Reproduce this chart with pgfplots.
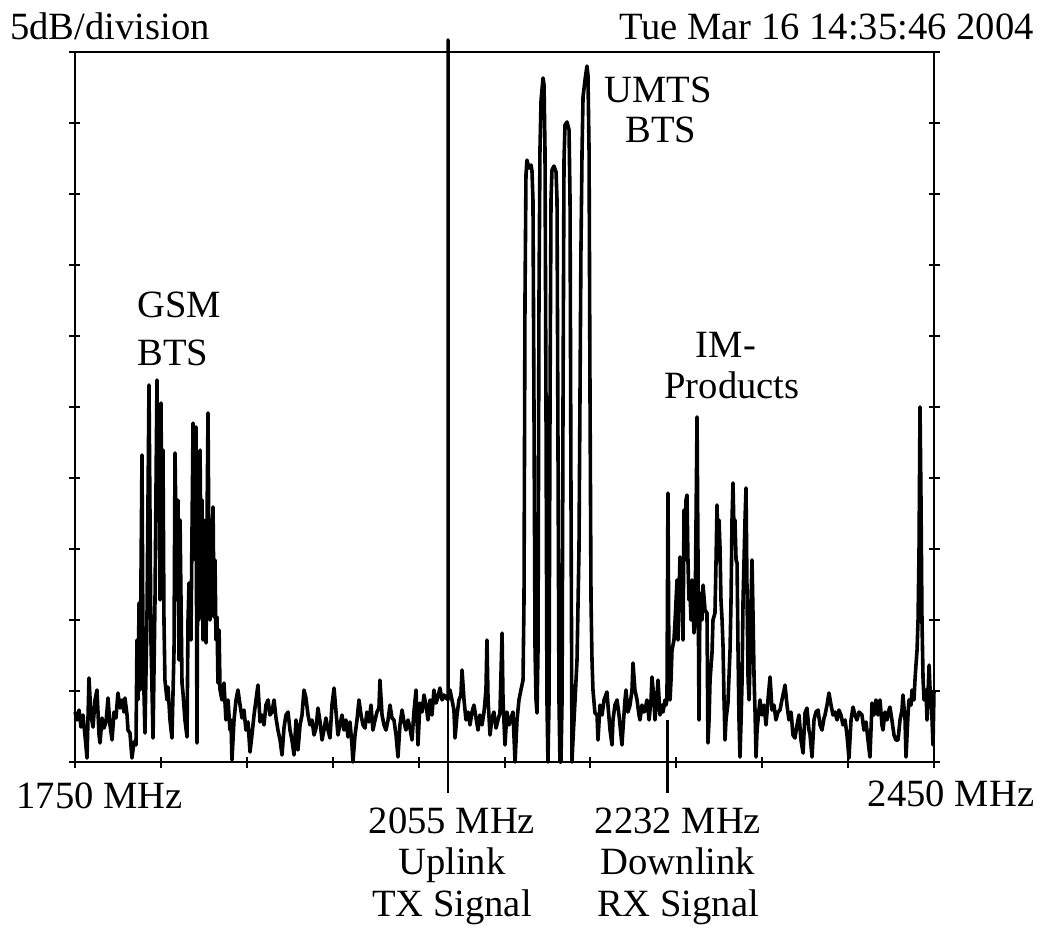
\documentclass[border=0pt]{standalone}
\usepackage{pgfplots}
\pgfplotsset{compat=1.18}
\usepackage{fontspec}
\setmainfont{Liberation Serif}
\tikzset{lbl/.style={font=\fontsize{19.3pt}{21pt}\selectfont, inner sep=0pt}}
\begin{document}
\begin{tikzpicture}
\begin{axis}[
  at={(0pt,0pt)}, anchor=south west,
  scale only axis, width=429.5pt, height=355pt,
  xmin=1750, xmax=2450, ymin=0, ymax=50,
  clip=false,
  axis line style={line width=1.3pt},
  xtick={1750,1820,1890,1960,2030,2100,2170,2240,2310,2380,2450},
  ytick={0,5,...,50},
  xticklabels={}, yticklabels={},
  xtick pos=left, ytick pos=both,
  tick align=center, major tick length=5.5pt,
  tick style={line width=1pt, black},
]
\addplot[black, line width=1.8pt, line join=round] table {
x y
1750.0 3.52
1751.6 2.96
1753.3 3.66
1754.9 2.46
1756.5 3.31
1758.1 1.90
1759.8 0.28
1761.4 5.92
1763.0 3.31
1764.7 2.46
1766.3 4.37
1767.9 5.07
1769.6 1.90
1770.4 1.34
1772.0 3.10
1773.6 2.39
1775.3 2.82
1776.9 4.51
1778.5 2.61
1780.2 1.55
1781.8 3.52
1783.4 3.10
1785.0 4.86
1786.7 3.80
1788.3 4.37
1789.9 3.52
1790.7 4.51
1792.4 3.31
1793.2 2.25
1794.8 2.04
1796.4 0.28
1798.1 1.41
1799.7 1.20
1800.5 8.59
1801.3 4.37
1802.2 11.20
1803.0 5.07
1804.6 21.62
1805.4 7.89
1807.0 2.04
1808.7 10.49
1810.3 26.55
1811.9 8.59
1813.6 1.69
1815.2 11.41
1816.8 26.90
1817.6 17.04
1818.5 23.38
1819.3 11.41
1820.1 25.28
1820.9 14.23
1821.7 21.97
1822.5 10.00
1823.3 5.77
1825.0 4.37
1825.8 5.28
1827.4 2.96
1829.0 1.69
1830.7 7.89
1831.5 21.76
1833.1 11.41
1833.9 18.45
1834.7 7.18
1835.6 17.04
1837.2 5.56
1838.0 4.86
1839.6 2.96
1841.3 1.76
1842.1 10.00
1842.9 12.61
1844.5 8.59
1846.2 23.87
1847.8 14.23
1848.6 23.59
1849.4 1.34
1850.2 18.45
1851.0 10.00
1851.9 21.97
1852.7 14.23
1853.5 18.45
1854.3 8.59
1855.1 17.04
1855.9 11.41
1856.8 8.38
1857.6 17.04
1858.4 24.58
1859.2 14.23
1860.0 10.00
1860.8 17.04
1861.6 11.41
1862.5 17.96
1863.3 10.21
1864.1 14.23
1864.9 8.59
1865.7 10.21
1866.5 5.56
1867.4 9.30
1868.2 5.07
1869.8 4.37
1871.4 5.56
1873.0 2.96
1874.7 4.37
1876.3 2.25
1877.1 2.96
1877.9 0.14
1879.6 2.96
1881.2 4.37
1882.8 5.07
1884.5 4.01
1886.1 3.10
1887.7 3.66
1889.3 2.25
1891.0 2.82
1892.6 0.70
1894.2 1.90
1895.9 3.31
1897.5 4.37
1899.1 5.42
1900.8 2.82
1902.4 3.31
1904.0 2.61
1905.6 4.01
1907.3 4.37
1908.9 3.31
1910.5 3.52
1912.2 4.37
1913.8 3.10
1915.4 2.25
1917.1 1.55
1918.7 0.49
1920.3 2.39
1921.9 3.31
1923.6 3.52
1925.2 2.25
1926.8 1.55
1928.5 0.49
1930.1 2.96
1931.7 0.85
1933.4 2.61
1935.0 3.31
1936.6 5.07
1938.2 4.51
1939.9 3.31
1941.5 2.61
1943.1 2.96
1944.8 1.90
1946.4 2.39
1948.0 3.80
1949.7 2.82
1951.3 1.55
1952.9 2.25
1954.5 3.10
1956.2 2.25
1957.8 1.69
1959.4 4.01
1961.1 5.21
1962.7 3.52
1964.3 1.90
1965.9 2.61
1967.6 3.31
1969.2 2.25
1970.8 2.96
1972.5 1.76
1974.1 2.82
1975.7 1.20
1976.5 0.00
1978.2 1.90
1979.8 2.96
1981.4 4.37
1983.1 3.31
1984.7 2.61
1986.3 2.39
1987.9 3.52
1989.6 2.82
1991.2 4.01
1992.8 2.25
1994.5 2.96
1996.1 3.52
1997.7 3.80
1998.5 5.77
2000.2 3.31
2001.8 2.61
2003.4 2.25
2005.1 2.96
2006.7 4.01
2008.3 3.10
2009.9 2.96
2011.6 1.90
2013.2 0.35
2014.8 2.61
2016.5 3.66
2018.1 2.82
2019.7 2.25
2021.4 2.96
2023.0 2.39
2024.6 1.55
2026.2 3.52
2027.9 5.07
2029.5 1.20
2031.1 4.15
2032.8 3.52
2034.4 4.72
2036.0 4.01
2037.7 2.96
2039.3 4.37
2040.9 3.31
2042.5 5.07
2044.2 4.15
2045.8 4.58
2047.4 5.21
2049.1 4.37
2050.7 4.72
2052.4 4.50
2054.0 4.40
2054.0 50.85
2054.0 4.40
2055.6 5.07
2057.2 4.37
2058.8 3.66
2059.7 1.69
2061.3 3.31
2062.9 4.37
2064.5 4.72
2065.4 6.48
2067.0 4.37
2068.6 2.96
2070.3 3.52
2071.9 2.61
2073.5 3.52
2075.1 4.01
2076.8 3.10
2078.4 2.25
2080.0 3.31
2081.7 2.61
2083.3 3.52
2084.9 5.07
2085.7 8.59
2086.6 4.37
2088.2 1.90
2089.8 3.10
2091.4 3.52
2093.1 2.39
2094.7 2.96
2096.3 3.45
2098.0 9.08
2098.8 4.37
2100.4 1.20
2102.0 3.52
2103.7 2.61
2105.3 3.10
2106.9 3.52
2108.6 0.00
2110.2 2.96
2111.8 4.37
2113.4 5.07
2115.1 5.77
2115.9 11.41
2116.7 32.54
2117.5 41.34
2118.3 42.39
2120.0 41.83
2121.6 42.04
2122.4 41.62
2123.2 39.58
2124.0 25.49
2124.9 7.89
2125.7 4.37
2126.5 3.45
2127.3 7.89
2128.1 32.54
2128.9 43.10
2129.8 46.62
2131.4 48.17
2132.2 47.68
2133.0 43.10
2133.8 25.49
2134.6 4.37
2135.4 0.00
2136.3 4.37
2137.1 25.49
2137.9 39.58
2138.7 41.69
2140.3 41.97
2142.0 41.55
2142.8 39.58
2143.6 21.97
2144.4 4.37
2145.2 0.00
2146.0 0.00
2146.9 4.37
2147.7 25.49
2148.5 42.39
2149.3 44.86
2150.9 45.07
2152.6 44.51
2153.4 39.58
2154.2 18.45
2155.0 0.00
2155.8 1.55
2157.5 4.37
2159.1 7.18
2160.7 14.93
2161.5 25.49
2162.3 36.06
2163.2 43.10
2164.0 46.83
2165.6 48.03
2167.2 49.01
2168.0 48.38
2168.9 43.10
2169.7 25.49
2170.5 11.41
2171.3 7.18
2172.1 5.07
2173.7 3.45
2175.4 3.31
2176.2 1.55
2177.8 4.01
2179.5 3.31
2181.1 4.37
2183.5 4.93
2184.3 4.01
2186.0 2.25
2187.6 1.20
2188.4 2.96
2190.0 4.01
2191.7 4.37
2193.3 3.31
2194.1 2.61
2195.7 1.20
2196.6 2.39
2198.2 4.37
2199.0 5.07
2200.6 3.52
2202.3 4.01
2203.9 5.07
2204.7 6.97
2206.3 5.07
2208.0 4.37
2209.6 3.31
2210.4 2.96
2212.0 4.01
2213.7 3.52
2214.5 3.66
2216.1 4.37
2217.8 2.96
2219.4 4.37
2220.2 5.99
2221.8 4.37
2222.6 2.96
2224.3 4.72
2225.1 5.77
2226.7 3.31
2228.4 4.01
2229.2 3.52
2230.8 4.37
2231.6 4.01
2232.4 4.37
2233.2 18.94
2234.1 5.07
2234.9 4.37
2235.7 5.77
2236.5 7.89
2238.1 8.59
2238.9 9.79
2240.6 12.82
2241.4 8.59
2243.0 14.44
2243.8 11.41
2244.6 12.82
2245.5 8.59
2246.3 17.75
2247.1 14.23
2247.9 18.45
2248.7 18.80
2249.5 14.23
2250.3 11.41
2251.2 11.90
2252.0 10.00
2252.8 12.82
2253.6 11.41
2254.4 9.08
2255.3 10.00
2256.9 24.30
2257.7 14.23
2258.5 2.96
2259.3 11.90
2261.0 10.00
2261.8 12.46
2263.4 10.70
2265.0 10.49
2265.8 1.34
2266.7 2.96
2267.5 5.77
2269.1 7.68
2269.9 10.00
2271.5 10.49
2272.4 14.23
2273.2 18.10
2274.0 14.23
2274.8 17.04
2275.6 15.14
2276.4 11.41
2277.3 10.00
2278.1 8.10
2278.9 4.37
2279.7 1.55
2280.5 2.96
2282.1 4.15
2283.8 7.89
2284.6 11.41
2285.4 17.04
2286.2 19.65
2287.0 16.34
2287.8 17.04
2288.7 14.23
2289.5 14.01
2290.3 7.89
2291.1 2.96
2291.9 0.35
2292.8 2.96
2293.6 5.77
2294.4 11.41
2295.2 14.23
2296.0 17.04
2296.8 19.30
2297.7 11.41
2298.5 5.77
2299.3 4.37
2300.1 7.18
2300.9 11.41
2301.7 14.23
2302.6 10.00
2303.4 5.77
2304.2 3.45
2305.0 0.35
2305.8 2.25
2306.6 2.96
2308.2 4.37
2309.8 3.31
2311.5 4.01
2313.1 2.61
2314.7 4.37
2316.4 5.99
2318.0 3.66
2319.6 4.01
2321.2 2.96
2322.9 3.52
2324.5 3.66
2326.1 4.37
2327.8 5.07
2328.6 5.42
2330.2 4.01
2331.8 2.96
2333.5 3.52
2335.1 1.90
2336.7 1.69
2338.4 2.61
2340.0 3.31
2341.6 1.55
2343.3 0.63
2344.9 3.45
2346.5 3.80
2348.1 2.25
2349.0 1.90
2350.6 0.35
2352.2 2.96
2353.8 3.52
2355.5 3.66
2357.1 2.61
2358.7 2.25
2360.4 3.10
2361.2 3.31
2362.8 4.01
2364.4 4.86
2366.1 4.01
2367.7 3.31
2369.3 3.52
2371.0 2.96
2372.6 3.66
2374.2 3.31
2375.8 2.61
2377.5 2.96
2379.1 1.90
2380.7 0.28
2382.4 2.96
2384.0 3.87
2385.6 3.31
2387.2 2.96
2388.9 3.52
2391.3 3.31
2392.9 2.25
2394.6 2.82
2396.2 1.55
2397.8 0.35
2399.5 4.15
2401.1 3.31
2402.7 4.37
2404.4 3.31
2406.0 4.37
2407.6 2.61
2408.4 2.25
2410.1 3.52
2411.7 2.96
2413.3 3.66
2414.1 3.87
2415.7 2.96
2417.4 1.90
2419.0 1.55
2420.7 1.55
2422.3 2.96
2423.9 3.66
2424.7 4.72
2426.4 2.96
2427.2 0.35
2428.8 3.31
2429.6 4.37
2431.3 4.01
2432.1 5.07
2433.7 4.37
2434.5 5.77
2435.3 6.83
2436.2 7.89
2437.0 10.00
2437.8 14.93
2438.6 25.00
2439.4 18.45
2440.2 10.00
2441.1 5.77
2441.9 4.37
2443.5 5.07
2444.3 2.96
2446.0 6.83
2446.8 5.07
2447.6 4.37
2448.4 2.96
2449.2 1.20
2450.0 5.07
};
% frequency markers below the trace
\addplot[black, line width=1.3pt] coordinates {(2054,4.4) (2054,-2.18)};
\addplot[black, line width=1.3pt] coordinates {(2232.8,2.96) (2232.8,-2.18)};
% texts
\node[lbl, anchor=base west] at (axis cs:1697.0,50.90) {5dB/division};
\node[lbl, anchor=base east] at (axis cs:2531.5,50.90) {Tue Mar 16 14:35:46 2004};
\node[lbl, anchor=base] at (axis cs:1770.0,-3.25) {1750 MHz};
\node[lbl, anchor=base] at (axis cs:2463.9,-3.10) {2450 MHz};
\node[lbl, anchor=base] at (axis cs:2057.2,-5.00) {2055 MHz};
\node[lbl, anchor=base] at (axis cs:2057.2,-7.95) {Uplink};
\node[lbl, anchor=base] at (axis cs:2057.2,-10.90) {TX Signal};
\node[lbl, anchor=base] at (axis cs:2241.4,-5.00) {2232 MHz};
\node[lbl, anchor=base] at (axis cs:2241.4,-7.95) {Downlink};
\node[lbl, anchor=base] at (axis cs:2241.4,-10.90) {RX Signal};
\node[lbl, anchor=base west] at (axis cs:1800.5,31.27) {GSM};
\node[lbl, anchor=base west] at (axis cs:1800.5,27.89) {BTS};
\node[lbl, anchor=base] at (axis cs:2225.1,46.41) {UMTS};
\node[lbl, anchor=base] at (axis cs:2227.5,43.66) {BTS};
\node[lbl, anchor=base] at (axis cs:2280.5,28.52) {IM-};
\node[lbl, anchor=base] at (axis cs:2285.4,25.63) {Products};
\end{axis}
\pgfresetboundingbox
\path[use as bounding box] (-37.5pt,-83pt) rectangle (485pt,381pt);
\end{tikzpicture}
\end{document}
